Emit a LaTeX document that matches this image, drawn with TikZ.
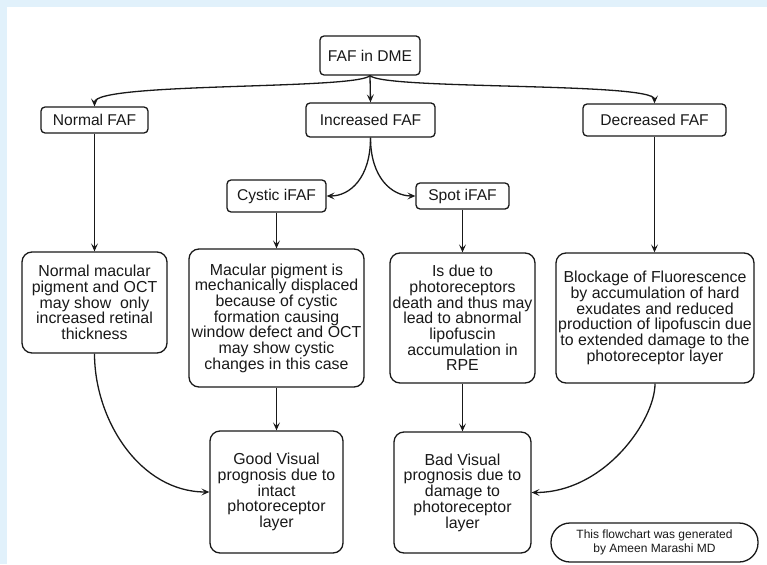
\documentclass[tikz,border=0pt]{standalone}
\usepackage{fontspec}
\setmainfont{Liberation Sans}
\usetikzlibrary{arrows.meta}
\definecolor{bgblue}{RGB}{225,241,251}
\definecolor{inkc}{RGB}{25,25,25}
\begin{document}
\begin{tikzpicture}[x=1pt,y=-1pt,
  smallbox/.style={draw=inkc, rounded corners=4pt, line width=1.3pt, align=center, inner sep=0pt, text=inkc, font=\fontsize{15.6}{16}\selectfont},
  bigbox/.style={draw=inkc, rounded corners=10pt, line width=1.3pt, align=center, inner sep=0pt, text=inkc, font=\fontsize{15.9}{15.7}\selectfont},
  footbox/.style={draw=inkc, rounded corners=19pt, line width=1.3pt, align=center, inner sep=0pt, text=inkc, font=\fontsize{12}{13.5}\selectfont},
  conn/.style={draw=inkc, line width=1.3pt, -{Stealth[length=8pt,width=7pt,inset=3.5pt]}}]
\fill[bgblue] (0,0) rectangle (767,564);
\fill[white] (7,7) rectangle (767,564);
\useasboundingbox (0,0) rectangle (767,564);

\node[smallbox, minimum width=100pt, minimum height=39pt] (dme) at (370,55.5) {FAF in DME};
\node[smallbox, minimum width=129pt, minimum height=34pt] (inc) at (370.5,120) {Increased FAF};
\node[smallbox, minimum width=107pt, minimum height=26pt] (nor) at (94.5,120) {Normal FAF};
\node[smallbox, minimum width=143pt, minimum height=32pt] (dec) at (654.5,120) {Decreased FAF};
\node[smallbox, minimum width=99pt, minimum height=32pt] (cys) at (276.5,196) {Cystic iFAF};
\node[smallbox, minimum width=93pt, minimum height=26pt] (spot) at (462.5,196) {Spot iFAF};

\node[bigbox, minimum width=145pt, minimum height=101pt] (nmac) at (94.5,302.5)
  {Normal macular\\pigment and OCT\\may show\ \ only\\increased retinal\\thickness};
\node[bigbox, minimum width=175pt, minimum height=138pt] (mac) at (276.5,318)
  {Macular pigment is\\mechanically displaced\\because of cystic\\formation causing\\window defect and OCT\\may show cystic\\changes in this case};
\node[bigbox, minimum width=145pt, minimum height=130pt] (isdue) at (462.5,318)
  {Is due to\\photoreceptors\\death and thus may\\lead to abnormal\\lipofuscin\\accumulation in\\RPE};
\node[bigbox, minimum width=198pt, minimum height=130pt] (block) at (655,318)
  {Blockage of Fluorescence\\by accumulation of hard\\exudates and reduced\\production of lipofuscin due\\to extended damage to the\\photoreceptor layer};
\node[bigbox, minimum width=133pt, minimum height=122pt] (good) at (276.5,492)
  {Good Visual\\prognosis due to\\intact\\photoreceptor\\layer};
\node[bigbox, minimum width=137pt, minimum height=121pt] (bad) at (462.5,492.5)
  {Bad Visual\\prognosis due to\\damage to\\photoreceptor\\layer};
\node[footbox, minimum width=207pt, minimum height=39pt] (foot) at (654.5,542.5)
  {This flowchart was generated\\by Ameen Marashi MD};

% connectors
\draw[conn] (dme.south) .. controls (355,90) and (94.5,82) .. (nor.north);
\draw[conn] (dme.south) -- (inc.north);
\draw[conn] (dme.south) .. controls (385,90) and (654.5,82) .. (dec.north);
\draw[conn] (inc.south) .. controls (370.5,178) and (350,196) .. (cys.east);
\draw[conn] (inc.south) .. controls (370.5,178) and (392,196) .. (spot.west);
\draw[conn] (nor.south) -- (nmac.north);
\draw[conn] (dec.south) -- (block.north -| dec.south);
\draw[conn] (cys.south) -- (mac.north -| cys.south);
\draw[conn] (spot.south) -- (isdue.north -| spot.south);
\draw[conn] (mac.south) -- (good.north -| mac.south);
\draw[conn] (isdue.south) -- (bad.north -| isdue.south);
\draw[conn] (nmac.south) .. controls (94.5,420) and (140,492) .. (good.west);
\draw[conn] (block.south) .. controls (655,420) and (605,492.5) .. (bad.east);
\end{tikzpicture}
\end{document}
